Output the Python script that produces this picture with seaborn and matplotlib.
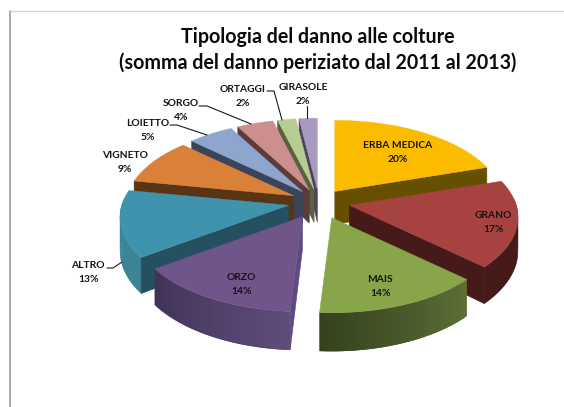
import numpy as np
import matplotlib
matplotlib.use("Agg")
import matplotlib.pyplot as plt
from matplotlib.colors import to_rgb
import seaborn as sns

# Share of damage per crop, percent
crops = ["ERBA MEDICA", "GRANO", "MAIS", "ORZO", "ALTRO",
         "VIGNETO", "LOIETTO", "SORGO", "ORTAGGI", "GIRASOLE"]
shares = [20, 17, 14, 14, 13, 9, 5, 4, 2, 2]

top_colors = ["#FBBC00", "#A64240", "#89A54A", "#70558B", "#4093AC",
              "#D98139", "#8EA5CE", "#CC8F8D", "#B8CC91", "#A899BE"]
cut_colors = ["#665000", "#451A19", None, "#5E4A82", "#24505F",
              "#593515", "#3A455C", "#5C3B3A", "#566240", "#4D4360"]
rim_from = ["#665000", "#451A19", "#5C7036", "#5E4C7A", "#3C8498",
            "#593515", "#3A455C", "#5C3B3A", "#566240", "#4D4360"]
rim_to = ["#665000", "#451A19", "#35421E", "#413357", "#3C8498",
          "#593515", "#3A455C", "#5C3B3A", "#566240", "#4D4360"]

title_lines = ["Tipologia del danno alle colture",
               "(somma del danno periziato dal 2011 al 2013)"]

# Pie geometry in pixel units
CENTER = (319.0, 202.0)
RX, RY, TILT = 167.0, 81.3, 0.1446
EXPLODE = 0.18
THICKNESS = 33.0

# Label anchors and leader lines, one entry per crop
label_xy = {"ERBA MEDICA": (398, 145), "GRANO": (493, 216), "MAIS": (380, 279),
            "ORZO": (241, 277), "ALTRO": (88, 265), "VIGNETO": (125, 156),
            "LOIETTO": (148, 123), "SORGO": (181, 104), "ORTAGGI": (243, 89),
            "GIRASOLE": (303, 87)}
leaders = {"ALTRO": [(107, 268), (113, 268), (122, 262)],
           "LOIETTO": [(170, 125), (177, 125), (207, 135)],
           "SORGO": [(199, 106), (207, 106), (251, 124)],
           "ORTAGGI": [(267, 91), (274, 91), (282, 120)],
           "GIRASOLE": [(307, 106), (307, 118)]}

sns.set_theme(style="white")
plt.rcParams["font.family"] = ["Lato", "DejaVu Sans"]


def scale(theta):
    return 1.0 / (1.0 + TILT * np.cos(theta))


def rim(theta):
    s = scale(theta)
    return RX * np.sin(theta) * s, -RY * np.cos(theta) * s


fig, ax = plt.subplots(figsize=(5.64, 4.07), dpi=100)
fig.subplots_adjust(0, 0, 1, 1)
ax.set_xlim(0, 564)
ax.set_ylim(407, 0)
ax.axis("off")

# Chart frame, open towards the right and the bottom
ax.plot([9.5, 9.5], [407, 10.5], color="#9A9A9A", lw=1.2)
ax.plot([9.5, 564], [10.5, 10.5], color="#D4D4D4", lw=1.0)

edges = np.cumsum([0] + shares) / sum(shares) * 2 * np.pi
slices = []
for i in range(len(crops)):
    slices.append((i, edges[i], edges[i + 1], (edges[i] + edges[i + 1]) / 2))

# Painter's order: slices at the back first
for i, a0, a1, mid in sorted(slices, key=lambda t: -np.cos(t[3])):
    ox, oy = rim(mid)
    ax0 = CENTER[0] + EXPLODE * ox
    ay0 = CENTER[1] + EXPLODE * oy

    # Outer wall, only where it faces the viewer. Each strip runs under
    # the next one so the shading shows no seams.
    lo, hi = max(a0, np.radians(85)), min(a1, np.radians(275))
    if hi > lo:
        steps = np.linspace(lo, hi, 41)
        c0, c1 = np.array(to_rgb(rim_from[i])), np.array(to_rgb(rim_to[i]))
        for j in range(len(steps) - 1):
            t = steps[j:j + 3]
            dx, dy = rim(t)
            xs = ax0 + dx
            ys = ay0 + dy
            low = ys + THICKNESS * scale(t)
            color = c0 + (c1 - c0) * j / (len(steps) - 2)
            ax.fill(np.r_[xs, xs[::-1]], np.r_[ys, low[::-1]],
                    facecolor=color, edgecolor="none", zorder=1)

    # Radial cut face
    if cut_colors[i] is not None:
        cut = a1 if mid < np.pi else a0
        dx, dy = rim(cut)
        ax.fill([ax0, ax0 + dx, ax0 + dx, ax0],
                [ay0, ay0 + dy, ay0 + dy + THICKNESS * scale(cut), ay0 + THICKNESS],
                color=cut_colors[i], lw=0.4, zorder=1)

    # Top face
    arc = np.linspace(a0, a1, 60)
    dx, dy = rim(arc)
    ax.fill(np.r_[ax0, ax0 + dx], np.r_[ay0, ay0 + dy],
            color=top_colors[i], lw=0.3, zorder=1)

for name, value in zip(crops, shares):
    x, y = label_xy[name]
    ax.text(x, y, name, ha="center", va="center", fontsize=7.4,
            fontweight="bold", color="#141414", zorder=3)
    ax.text(x, y + 14, f"{value}%", ha="center", va="center", fontsize=7.4,
            fontweight="bold", color="#141414", zorder=3)

for pts in leaders.values():
    xs, ys = zip(*pts)
    ax.plot(xs, ys, color="#1A1A1A", lw=0.8, zorder=2)

ax.text(317.5, 37, title_lines[0], ha="center", va="center", fontsize=14.1,
        fontweight="bold", color="#0A0A0A")
ax.text(317.5, 63, title_lines[1], ha="center", va="center", fontsize=14.1,
        fontweight="bold", color="#0A0A0A")

fig.savefig("out.png", dpi=100, facecolor="white")
